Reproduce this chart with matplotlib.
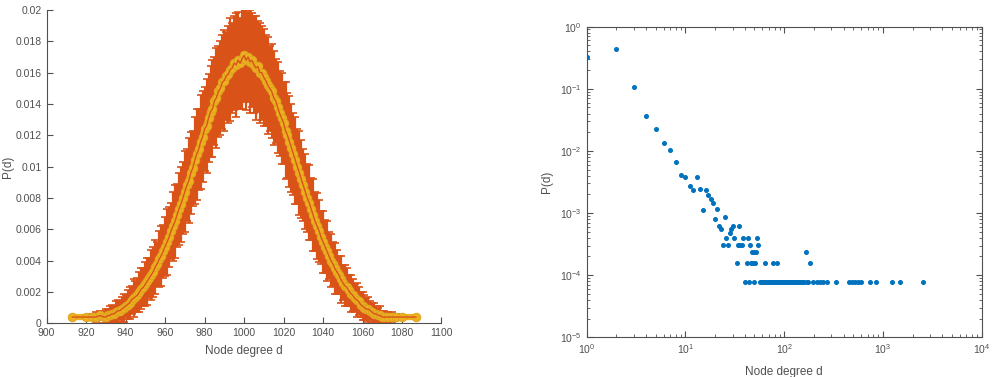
import numpy as np
import matplotlib
matplotlib.use('Agg')
import matplotlib.pyplot as plt

plt.rcParams['font.family'] = ['Liberation Sans', 'DejaVu Sans']
plt.rcParams['mathtext.default'] = 'regular'

# ---- left panel: degree distribution with error bars (values in 1e-4) ----
deg_lo = [913, 920, 923, 925, 927]
p_lo = [4, 4, 4, 4, 5]
err_lo = [0, 0, 2, 3, 3]

deg_mid_start, deg_mid_stop = 929, 1072
# degrees 929 .. 1000
p_left = [4, 4, 5, 5, 6, 6, 7, 8, 8, 9,
          10, 11, 12, 13, 15, 16, 17, 18, 20, 22,
          23, 25, 27, 29, 31, 33, 36, 38, 41, 43,
          46, 49, 52, 55, 59, 62, 65, 69, 73, 76,
          80, 84, 88, 91, 96, 99, 104, 108, 111, 116,
          119, 124, 126, 131, 135, 137, 142, 144, 148, 150,
          154, 155, 158, 159, 162, 163, 166, 165, 168, 166,
          169, 171]
# degrees 1001 .. 1071
p_right = [168, 170, 167, 168, 165, 163, 164, 160, 160, 157,
           155, 152, 150, 148, 144, 142, 138, 134, 131, 128,
           123, 120, 116, 112, 108, 104, 100, 96, 92, 88,
           84, 80, 77, 73, 69, 65, 62, 59, 55, 52,
           49, 46, 43, 40, 38, 35, 33, 31, 28, 26,
           24, 23, 21, 19, 18, 16, 15, 14, 12, 11,
           10, 9, 9, 8, 7, 6, 6, 5, 5, 4,
           4]
err_left = [4, 5, 4, 6, 6, 5, 7, 7, 6, 8,
            9, 7, 9, 10, 9, 12, 10, 11, 13, 13,
            12, 14, 15, 13, 16, 16, 17, 14, 18, 19,
            17, 19, 21, 19, 18, 22, 23, 20, 23, 24,
            23, 26, 23, 27, 26, 24, 28, 29, 26, 30,
            29, 27, 30, 28, 29, 31, 28, 32, 29, 30,
            30, 32, 28, 31, 33, 29, 30, 33, 31, 29,
            32, 30]
err_right = [32, 29, 33, 30, 31, 33, 29, 32, 30, 31,
             29, 31, 27, 30, 30, 27, 29, 27, 29, 26,
             31, 27, 29, 28, 26, 28, 24, 27, 25, 23,
             24, 22, 24, 20, 23, 19, 21, 20, 17, 20,
             17, 19, 15, 17, 14, 16, 14, 12, 15, 11,
             13, 12, 10, 12, 10, 9, 11, 9, 8, 9,
             8, 7, 8, 6, 6, 7, 5, 5, 6, 4,
             4]

deg_hi = [1073, 1075, 1077, 1080, 1087]
p_hi = [4, 4, 4, 4, 4]
err_hi = [3, 3, 2, 0, 0]

# ---- right panel: log-log degree distribution ----
deg_top = [1, 2, 3, 4, 5, 6, 7, 8, 9, 10, 11, 12, 13, 14, 15, 16, 17, 18, 19,
           20, 21, 22, 23, 25, 28, 29, 30, 35]
p_top = [0.33, 0.43, 0.106, 0.037, 0.0223, 0.0133, 0.0104, 0.0066, 0.0041,
         0.0038, 0.0027, 0.00235, 0.0038, 0.00245, 0.0011, 0.00235, 0.00198,
         0.00168, 0.00143, 0.00079, 0.00118, 0.00063, 0.00055, 0.00087,
         0.00047, 0.00055, 0.00063, 0.00063]
deg_5 = [26, 31, 38, 43, 53]            # P = 3.9e-4
deg_4 = [24, 27, 34, 36, 37, 45, 54]    # P = 3.1e-4
deg_3 = [47, 49, 52, 166]               # P = 2.36e-4
deg_2 = [33, 42, 46, 48, 51, 64, 78, 84, 183]   # P = 1.57e-4
deg_1 = [40, 44, 50, 57, 59, 60, 61, 62, 63, 65, 66, 67, 68, 70, 71, 72, 73,
         74, 75, 76, 79, 80, 81, 82, 83, 86, 87, 88, 90, 91, 93, 95, 97, 99,
         100, 102, 104, 106, 108, 110, 112, 114, 116, 119, 122, 125, 128, 131,
         135, 139, 143, 147, 151, 155, 160, 170, 176, 196, 215, 231, 249, 271,
         335, 453, 486, 521, 560, 600, 740, 851, 1236, 1490, 2546]   # P = 7.9e-5
p_levels = {5: 3.9e-4, 4: 3.1e-4, 3: 2.36e-4, 2: 1.57e-4, 1: 7.9e-5}

gray = '#505050'
fig = plt.figure(figsize=(9.97, 3.77), dpi=100)

# left
ax1 = fig.add_axes([0.0468, 0.1424, 0.396, 0.831])
deg = np.concatenate([deg_lo, np.arange(deg_mid_start, deg_mid_stop), deg_hi])
p = np.concatenate([p_lo, p_left, p_right, p_hi]) * 1e-4
err = np.concatenate([err_lo, err_left, err_right, err_hi]) * 1e-4
ax1.errorbar(deg, p, yerr=err, color='#D95319', lw=1, elinewidth=1.6,
             capsize=3, capthick=1.2)
ax1.plot(deg, p, '-o', color='#EDB120', lw=4.5, ms=6, mfc='#EDB120',
         mec='#E0A520', mew=0.8)
ax1.set_xlim(900, 1100)
ax1.set_ylim(0, 0.02)
ax1.set_xticks(np.arange(900, 1101, 20))
yt = np.arange(0, 0.0201, 0.002)
ax1.set_yticks(yt)
ax1.set_yticklabels(['0', '0.002', '0.004', '0.006', '0.008', '0.01',
                     '0.012', '0.014', '0.016', '0.018', '0.02'])
ax1.spines['top'].set_visible(False)
ax1.spines['right'].set_visible(False)
ax1.set_xlabel('Node degree d', fontsize=8.5, color=gray, labelpad=5)
ax1.set_ylabel('P(d)', fontsize=8.5, color=gray, labelpad=1)

# right
ax2 = fig.add_axes([0.5885, 0.1053, 0.396, 0.824])
blue = '#0072BD'
ax2.plot(deg_top, p_top, 'o', color=blue, ms=2.6, ls='none')
for cnt, ds in [(5, deg_5), (4, deg_4), (3, deg_3), (2, deg_2), (1, deg_1)]:
    ax2.plot(ds, [p_levels[cnt]] * len(ds), 'o', color=blue, ms=2.6, ls='none')
ax2.set_xscale('log')
ax2.set_yscale('log')
ax2.set_xlim(1, 1e4)
ax2.set_ylim(1e-5, 1)
ax2.tick_params(which='both', top=True, right=True)
ax2.set_xlabel('Node degree d', fontsize=8.5, color=gray, labelpad=7)
ax2.set_ylabel('P(d)', fontsize=8.5, color=gray, labelpad=5)

for ax in (ax1, ax2):
    ax.tick_params(which='both', direction='in', colors=gray, labelsize=7.5)
    ax.tick_params(which='major', length=4)
    ax.tick_params(which='minor', length=2)
    for s in ax.spines.values():
        s.set_color(gray)
        s.set_linewidth(0.8)

fig.savefig('out.png', dpi=100)
